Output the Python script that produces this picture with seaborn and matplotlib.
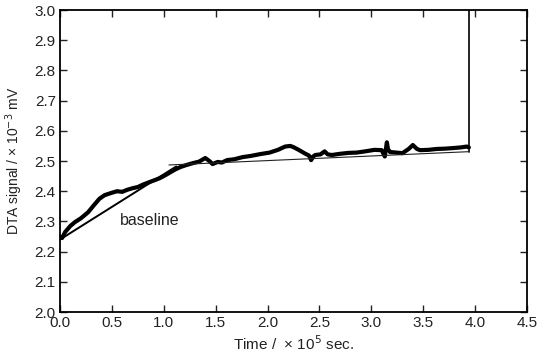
import matplotlib
matplotlib.use("Agg")
import matplotlib.pyplot as plt
import seaborn as sns
import pandas as pd

# Data
time = [0.00, 0.02, 0.05, 0.10, 0.145, 0.20, 0.27, 0.33, 0.38, 0.43, 0.50, 0.55,
        0.60, 0.65, 0.70, 0.75, 0.80, 0.86, 0.915, 0.96, 1.01, 1.06, 1.11, 1.16,
        1.22, 1.28, 1.34, 1.40, 1.44, 1.47, 1.52, 1.56, 1.61, 1.68, 1.76, 1.84,
        1.93, 2.02, 2.10, 2.17, 2.22, 2.25, 2.30, 2.36, 2.40, 2.42, 2.44, 2.46,
        2.51, 2.55, 2.58, 2.62, 2.70, 2.78, 2.86, 2.94, 3.03, 3.10, 3.13, 3.15,
        3.16, 3.18, 3.24, 3.30, 3.36, 3.40, 3.44, 3.47, 3.55, 3.63, 3.71, 3.79,
        3.86, 3.92, 3.94]
signal = [2.25, 2.245, 2.265, 2.285, 2.298, 2.31, 2.33, 2.355, 2.375, 2.387, 2.395, 2.40,
          2.398, 2.405, 2.41, 2.414, 2.422, 2.43, 2.437, 2.443, 2.452, 2.462, 2.472, 2.48,
          2.487, 2.493, 2.498, 2.51, 2.50, 2.49, 2.497, 2.495, 2.503, 2.506, 2.513, 2.517,
          2.523, 2.528, 2.537, 2.548, 2.55, 2.546, 2.537, 2.525, 2.518, 2.503, 2.515, 2.52,
          2.522, 2.532, 2.522, 2.52, 2.524, 2.527, 2.528, 2.532, 2.537, 2.536, 2.515, 2.562,
          2.54, 2.53, 2.528, 2.526, 2.54, 2.553, 2.54, 2.536, 2.537, 2.54, 2.541, 2.543,
          2.545, 2.548, 2.545]

jump_time = [3.94, 3.94]
jump_signal = [2.53, 3.05]

baseline1_time = [0.0, 1.12]
baseline1_signal = [2.24, 2.482]
baseline2_time = [1.05, 3.94]
baseline2_signal = [2.487, 2.531]

xticks = [0.0, 0.5, 1.0, 1.5, 2.0, 2.5, 3.0, 3.5, 4.0, 4.5]
yticks = [2.0, 2.1, 2.2, 2.3, 2.4, 2.5, 2.6, 2.7, 2.8, 2.9, 3.0]

sns.set_theme(style="ticks")
plt.rcParams["font.family"] = ["Liberation Sans", "DejaVu Sans"]

fig = plt.figure(figsize=(5.38, 3.54), dpi=100)
ax = fig.add_axes([0.1115, 0.1186, 0.868, 0.853])

df = pd.DataFrame({"t": time, "s": signal})
sns.lineplot(data=df, x="t", y="s", ax=ax, color="black", linewidth=3.0,
             sort=False, estimator=None)
sns.lineplot(x=jump_time, y=jump_signal, ax=ax, color="black", linewidth=1.2,
             sort=False, estimator=None)
sns.lineplot(x=baseline1_time, y=baseline1_signal, ax=ax, color="black", linewidth=1.4,
             sort=False, estimator=None)
sns.lineplot(x=baseline2_time, y=baseline2_signal, ax=ax, color="#222222", linewidth=0.8,
             sort=False, estimator=None)

ax.text(0.58, 2.303, "baseline", fontsize=11.5, ha="left", va="center", color="#222222")

ax.set_xlim(0, 4.5)
ax.set_ylim(2.0, 3.0)
ax.set_xticks(xticks)
ax.set_yticks(yticks)
ax.set_xticklabels([f"{v:.1f}" for v in xticks])
ax.set_yticklabels([f"{v:.1f}" for v in yticks])
ax.tick_params(direction="in", length=5, width=1.0, top=True, right=True,
               labeltop=False, labelright=False, labelsize=11, colors="#222222", pad=3)
for sp in ax.spines.values():
    sp.set_visible(True)
    sp.set_linewidth(1.3)
    sp.set_color("black")

ax.set_xlabel("Time /  \u00d7 10$^{5}$ sec.", fontsize=11, labelpad=3, color="#222222")
ax.set_ylabel("DTA signal / \u00d7 10$^{-3}$ mV", fontsize=10, labelpad=7, color="#222222")

fig.savefig("out.png", dpi=100)
